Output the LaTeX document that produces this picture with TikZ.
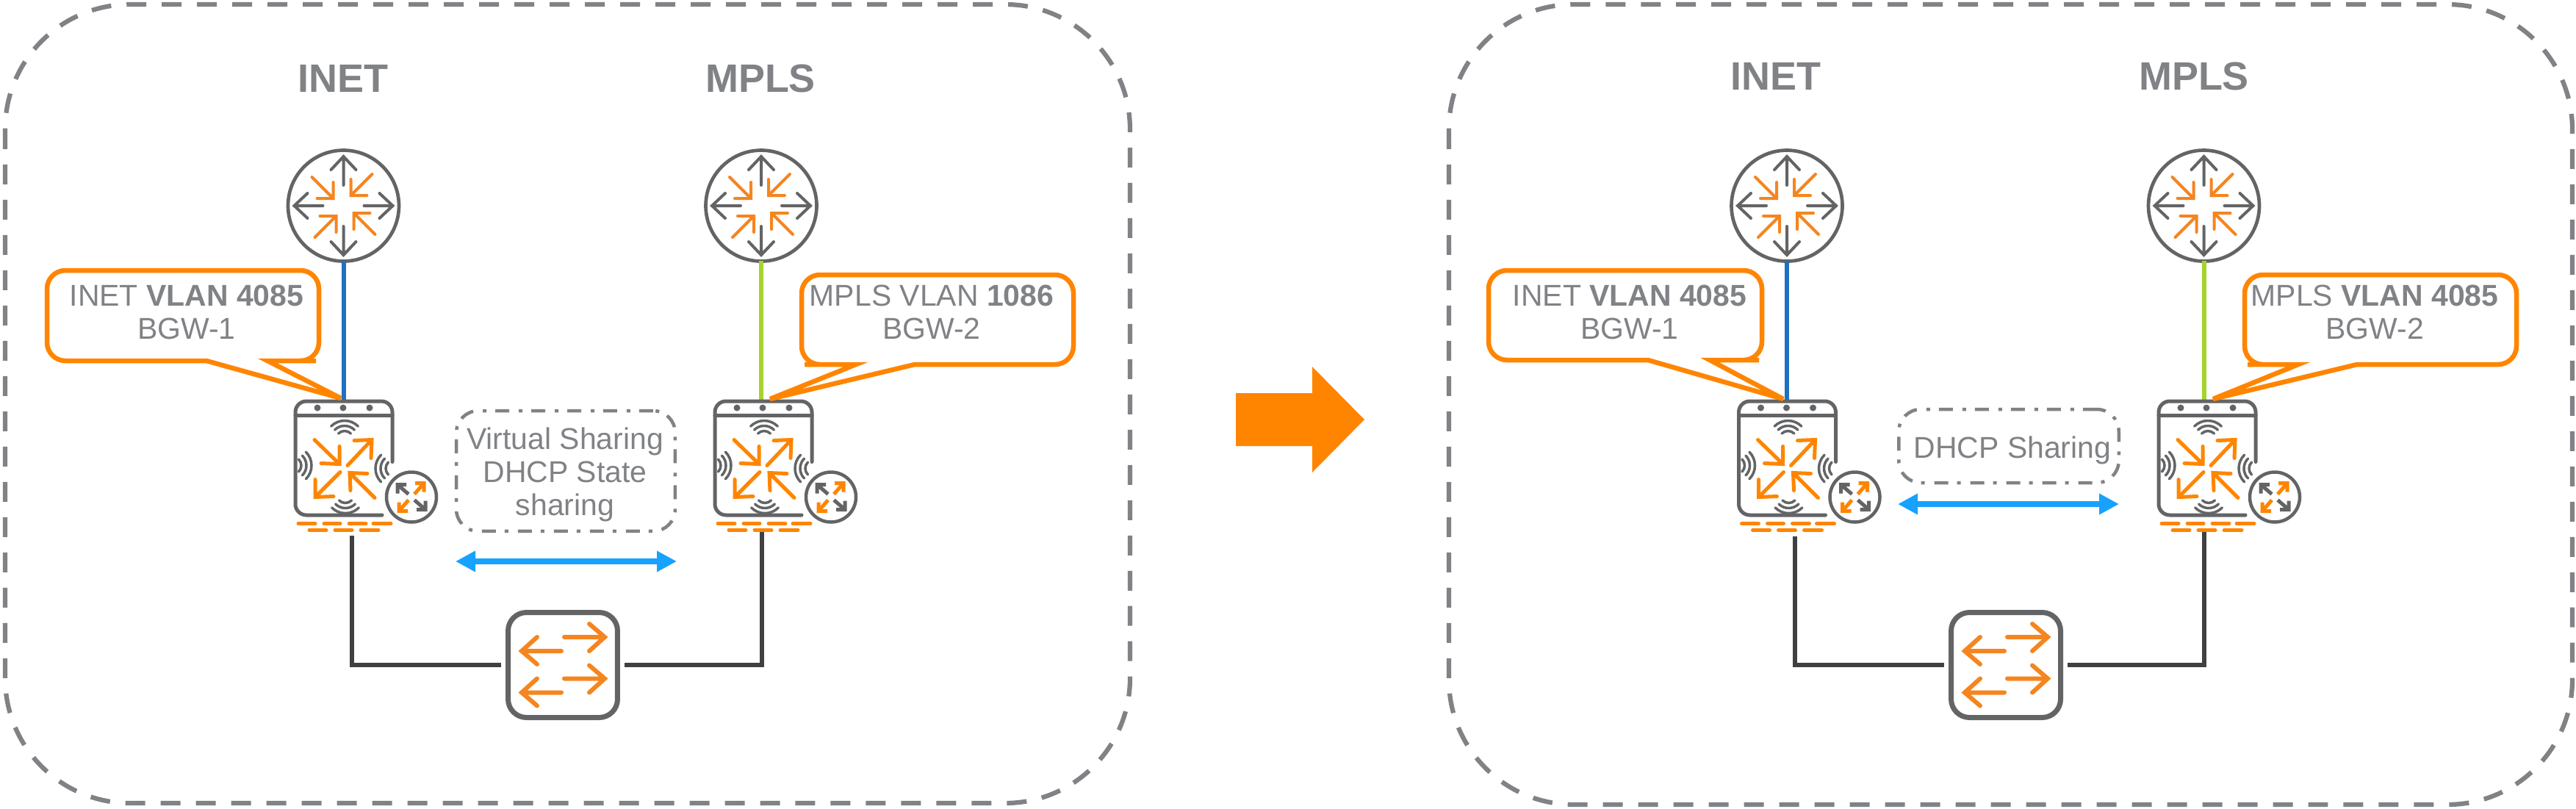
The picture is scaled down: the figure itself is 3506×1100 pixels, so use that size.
\documentclass[tikz,border=0pt]{standalone}
\usepackage{fontspec}
\setmainfont{Liberation Sans}
\usetikzlibrary{arrows.meta}
\definecolor{textgray}{HTML}{808285}
\definecolor{icongray}{HTML}{636466}
\definecolor{iconorange}{HTML}{F5851F}
\definecolor{calloutorange}{HTML}{FF8500}
\definecolor{sharingblue}{HTML}{17A2FF}
\definecolor{inetblue}{HTML}{1F70C1}
\definecolor{mplsgreen}{HTML}{A6D32C}
\definecolor{linkblack}{HTML}{3F4042}
\tikzstyle{panel} = [draw=textgray, line width=0.125cm, rounded corners=3.4cm, dash pattern=on 0.54cm off 0.42cm]
\tikzstyle{heading} = [anchor=base, inner sep=0, text=textgray, font=\fontsize{30.7}{34}\selectfont\bfseries]
\tikzstyle{router} = [circle, draw=icongray, line width=0.094cm, minimum size=3.02cm, inner sep=0, outer sep=0, fill=white]
\tikzstyle{gateway} = [rectangle, minimum width=2.64cm, minimum height=3.1cm, inner sep=0, outer sep=0]
\tikzstyle{switch} = [rectangle, draw=icongray, line width=0.14cm, rounded corners=0.5cm, minimum width=2.98cm, minimum height=2.86cm, inner sep=0, outer xsep=0.19cm, fill=white]
\tikzstyle{calloutline} = [draw=calloutorange, line width=0.13cm, fill=white, line join=miter, miter limit=6]
\tikzstyle{calloutlabel} = [inner sep=0, align=center, text=textgray, font=\fontsize{23.3}{25.6}\selectfont]
\tikzstyle{sharebox} = [rectangle, draw=textgray, line width=0.09cm, rounded corners=0.6cm, dash pattern=on 0.38cm off 0.24cm on 0.1cm off 0.26cm, inner sep=0]
\tikzstyle{uplink} = [line width=0.12cm]
\tikzstyle{lanlink} = [draw=linkblack, line width=0.12cm]
\tikzstyle{sharearrow} = [draw=sharingblue, line width=0.174cm, {Triangle[length=0.54cm,width=0.54cm]}-{Triangle[length=0.54cm,width=0.54cm]}]
\tikzstyle{graystroke} = [draw=icongray, line width=0.08cm, line cap=round, line join=miter]
\tikzstyle{orangestroke} = [draw=iconorange, line width=0.08cm, line cap=round, line join=miter]
\tikzstyle{wave} = [draw=icongray, line width=0.07cm, line cap=round]
\tikzset{
routerarrows/.pic={
\foreach \a in {0,90,180,270} {
\draw [graystroke, rotate=\a] (0,-28) -- (0,-67) (-17,-49) -- (0,-67) -- (17,-49);
\draw [orangestroke, rotate=\a] (-43,-39) -- (-14,-10) (-14,-32) -- (-14,-10) -- (-36,-10);
}
},
bgwicon/.pic={
% open outline and header
\draw [graystroke, line width=0.1cm, rounded corners=0.3cm] (66,5) -- (66,-77.5) -- (-66,-77.5) -- (-66,77.5) -- (52,77.5);
\draw [graystroke, line width=0.1cm] (-66,-58.5) -- (66,-58.5);
\foreach \x in {-36,-1,35} \fill [icongray] (\x,-68.5) circle [radius=4.5];
% four inner arrows
\begin{scope}[orangestroke, line width=0.1cm, draw=calloutorange]
\draw (-40,-25) -- (-6,8) (-6,-16) -- (-6,8) -- (-31,7);
\draw (5,10) -- (38,-25) (14,-24) -- (38,-25) -- (37,0);
\draw (-5,19) -- (-39,53) (-39,29) -- (-39,53) -- (-14,52);
\draw (42,54) -- (8,20) (32,21) -- (8,20) -- (9,44);
\end{scope}
% radio waves on the four sides
\foreach \r in {12,19,26} {
\draw [wave] (1,-25) ++(225:\r) arc [start angle=225, end angle=315, radius=\r];
\draw [wave] (2,49) ++(45:\r) arc [start angle=45, end angle=135, radius=\r];
\draw [wave] (-70,10) ++(-45:\r) arc [start angle=-45, end angle=45, radius=\r];
\draw [wave] (69,14) ++(135:\r) arc [start angle=135, end angle=225, radius=\r];
}
% small router
\draw [graystroke, line width=0.09cm, fill=white] (92,53) circle [radius=34];
\foreach \a/\c in {0/icongray,90/calloutorange,180/icongray,270/calloutorange}
\draw [graystroke, line width=0.1cm, line cap=butt, draw=\c, shift={(92,53)}, rotate=\a] (-4,-4) -- (-19,-17) (-19,-5) -- (-19,-17) -- (-7,-17);
% lan ports
\foreach \a/\b in {-62/-39,-27/-5,7/30,40/64} \draw [orangestroke, draw=calloutorange, line width=0.1cm] (\a,89) -- (\b,89);
\foreach \a/\b in {-47/-24,-12/11,23/47} \draw [orangestroke, draw=calloutorange, line width=0.1cm] (\a,98) -- (\b,98);
},
switcharrows/.pic={
\foreach \y in {0,56.5} {
\draw [orangestroke, line width=0.12cm] (2,-38+\y) -- (57,-38+\y) (36,-56+\y) -- (57,-38+\y) -- (36,-19+\y);
\draw [orangestroke, line width=0.12cm] (-2,-19+\y) -- (-56,-19+\y) (-35,-38+\y) -- (-56,-19+\y) -- (-35,-1+\y);
}
}
}
\begin{document}
\begin{tikzpicture}[x=0.02cm, y=-0.02cm]
\useasboundingbox (0,0) rectangle (3506,1100);
\draw [panel] (7,6) rectangle (1538,1093);
\draw [panel] (1972,6) rectangle (3501,1095);

% left side
\node (inetA) [heading] at (467,125) {INET};
\node (mplsA) [heading] at (1035,125) {MPLS};
\node (routerA) [router] at (467.5,280) {};
\node (routerB) [router] at (1036,280) {};
\pic at (routerA) {routerarrows};
\pic at (routerB) {routerarrows};
\node (bgwA) [gateway] at (468,623.5) {};
\node (bgwB) [gateway] at (1039,623.5) {};
\node (switchA) [switch] at (766,905) {};
\pic at (switchA) {switcharrows};
\coordinate (linkA) at (479,729);
\coordinate (linkB) at (1037,723);
\draw [uplink, inetblue] (routerA.south) -- (routerA.south |- bgwA.north);
\draw [uplink, mplsgreen] (routerB.south) -- (routerB.south |- bgwB.north);
\draw [lanlink] (linkA) |- (switchA.west);
\draw [lanlink] (linkB) |- (switchA.east);
\pic at (bgwA) {bgwicon};
\pic at (bgwB) {bgwicon};
\draw [calloutline] (281,491) [rounded corners=0.5cm] -- (64,491) -- (64,368) -- (434,368) -- (434,491) -- (405,491) [sharp corners] -- (385,491) -- (364,491) -- (464,542) -- cycle;
\draw [calloutline] (1245,496) [rounded corners=0.5cm] -- (1461,496) -- (1461,374) -- (1091,374) -- (1091,496) -- (1120,496) [sharp corners] -- (1140,496) -- (1165,496) -- (1048,543) -- cycle;
\node (calloutA) [calloutlabel] at (254,425) {INET \textbf{VLAN 4085}\\BGW-1};
\node (calloutB) [calloutlabel] at (1268,425) {MPLS VLAN \textbf{1086}\\BGW-2};
\node (shareboxA) [sharebox, minimum width=5.96cm, minimum height=3.28cm] at (770,641) {};
\node (sharetextA) [calloutlabel] at (769,646) {Virtual Sharing\\DHCP State\\sharing};
\coordinate (arrowAl) at (620,764);
\coordinate (arrowAr) at (921,764);
\draw [sharearrow] (arrowAl) -- (arrowAr);

% big arrow between both sides
\fill [calloutorange] (1682,535) -- (1786,535) -- (1786,499) -- (1857,571) -- (1786,643) -- (1786,607) -- (1682,607) -- cycle;

% right side
\node (inetC) [heading] at (2417,122) {INET};
\node (mplsC) [heading] at (2986,122) {MPLS};
\node (routerC) [router] at (2432,280) {};
\node (routerD) [router] at (2999.5,280) {};
\pic at (routerC) {routerarrows};
\pic at (routerD) {routerarrows};
\node (bgwC) [gateway] at (2432.5,623.5) {};
\node (bgwD) [gateway] at (3004,623.5) {};
\node (switchB) [switch] at (2730,905) {};
\pic at (switchB) {switcharrows};
\coordinate (linkC) at (2443,730);
\coordinate (linkD) at (3000,724);
\draw [uplink, inetblue] (routerC.south) -- (routerC.south |- bgwC.north);
\draw [uplink, mplsgreen] (routerD.south) -- (routerD.south |- bgwD.north);
\draw [lanlink] (linkC) |- (switchB.west);
\draw [lanlink] (linkD) |- (switchB.east);
\pic at (bgwC) {bgwicon};
\pic at (bgwD) {bgwicon};
\draw [calloutline] (2243,490) [rounded corners=0.5cm] -- (2026,490) -- (2026,368) -- (2398,368) -- (2398,490) -- (2369,490) [sharp corners] -- (2350,490) -- (2327,490) -- (2427,543) -- cycle;
\draw [calloutline] (3208,496) [rounded corners=0.5cm] -- (3425,496) -- (3425,374) -- (3055,374) -- (3055,496) -- (3084,496) [sharp corners] -- (3105,496) -- (3128,496) -- (3012,543) -- cycle;
\node (calloutC) [calloutlabel] at (2218,425) {INET \textbf{VLAN 4085}\\BGW-1};
\node (calloutD) [calloutlabel] at (3232,425) {MPLS \textbf{VLAN 4085}\\BGW-2};
\node (shareboxB) [sharebox, minimum width=5.99cm, minimum height=2cm] at (2734,607) {};
\node (sharetextB) [calloutlabel, anchor=base] at (2739,623) {DHCP Sharing};
\coordinate (arrowBl) at (2583,686);
\coordinate (arrowBr) at (2884,686);
\draw [sharearrow] (arrowBl) -- (arrowBr);
\end{tikzpicture}
\end{document}
